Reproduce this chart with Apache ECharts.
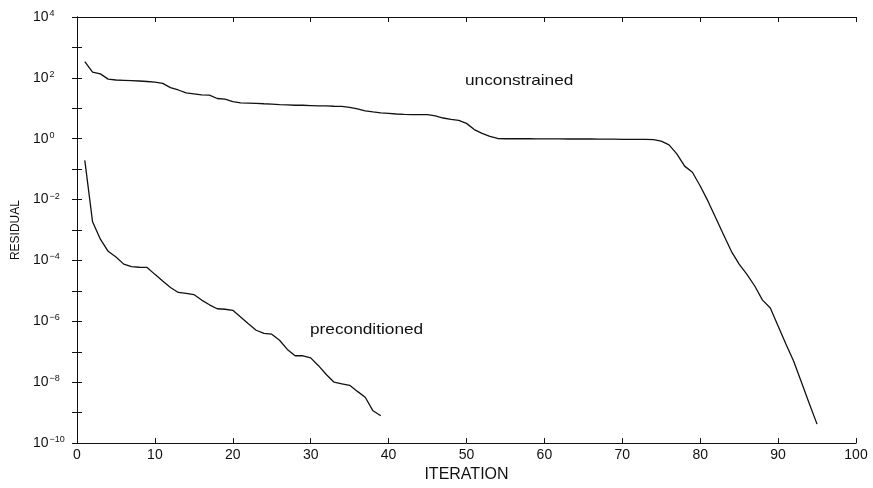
<!DOCTYPE html>
<html>
<head>
<meta charset="utf-8">
<script src="https://cdn.jsdelivr.net/npm/echarts@6/dist/echarts.min.js"></script>
<style>
  html, body { margin: 0; padding: 0; background: #fff; }
  #chart { width: 873px; height: 488px; }
</style>
</head>
<body>
<div id="chart"></div>
<script>
// iteration numbers
const iterUnc = []
for (let i = 1; i <= 95; i++) iterUnc.push(i)
const iterPre = []
for (let i = 1; i <= 39; i++) iterPre.push(i)

// residuals
const unconstrained = [
  340, 155, 135, 91, 85, 83, 81, 79, 76, 72,
  66, 48, 40, 32, 30, 27.5, 27, 21, 20, 16.6,
  15.1, 14.8, 14.5, 14.1, 13.8, 13.2, 12.9, 12.6, 12.6, 12.3,
  12.0, 12.0, 11.7, 11.5, 10.7, 9.5, 8.3, 7.6, 7.1, 6.8,
  6.5, 6.3, 6.2, 6.2, 6.2, 5.6, 4.8, 4.3, 4.0, 3.2,
  2.0, 1.5, 1.2, 1.02, 1.0, 1.0, 1.0, 1.0, 0.99, 0.99,
  0.99, 0.99, 0.98, 0.98, 0.98, 0.98, 0.97, 0.97, 0.97, 0.96,
  0.96, 0.96, 0.95, 0.93, 0.83, 0.63, 0.32, 0.126, 0.079, 0.028,
  8.9e-3, 2.5e-3, 7e-4, 2e-4, 7.6e-5, 3.5e-5, 1.45e-5, 5e-6, 2.75e-6, 7e-7,
  1.8e-7, 4.9e-8, 1e-8, 2e-9, 4.2e-10
]
const preconditioned = [
  0.195, 1.86e-3, 5e-4, 2e-4, 1.3e-4, 7.6e-5, 6.3e-5, 6e-5, 5.9e-5, 3.5e-5,
  2.1e-5, 1.3e-5, 8.9e-6, 8.3e-6, 7.6e-6, 5e-6, 3.5e-6, 2.6e-6, 2.5e-6, 2.3e-6,
  1.4e-6, 8.3e-7, 5.1e-7, 4e-7, 3.8e-7, 2.4e-7, 1.2e-7, 7.4e-8, 7.4e-8, 6.3e-8,
  3.5e-8, 1.8e-8, 1e-8, 8.9e-9, 7.9e-9, 5e-9, 3.2e-9, 1.15e-9, 7.9e-10
]

const xTicks = [0, 10, 20, 30, 40, 50, 60, 70, 80, 90, 100]
// decades that get a label
const yLabelExps = [-10, -8, -6, -4, -2, 0, 2, 4]

const font = 'Liberation Sans, Arial, Helvetica, sans-serif'
const ink = '#111'

const chart = echarts.init(document.getElementById('chart'))

const yBase = {
  type: 'log',
  logBase: 10,
  min: 1e-10,
  max: 1e4,
  interval: 1,
  splitLine: {show: false},
  axisLine: {show: true, lineStyle: {color: ink, width: 1}},
  axisTick: {show: true, inside: true, length: 5, lineStyle: {color: ink}}
}

chart.setOption({
  animation: false,
  backgroundColor: '#fff',
  grid: {left: 77, right: 17, top: 17, bottom: 36, containLabel: false},
  xAxis: [
    {
      type: 'value',
      min: xTicks[0],
      max: xTicks[xTicks.length - 1],
      interval: 10,
      name: 'ITERATION',
      nameLocation: 'middle',
      nameGap: 21,
      nameTextStyle: {color: ink, fontFamily: font, fontSize: 16},
      splitLine: {show: false},
      axisLine: {show: true, lineStyle: {color: ink, width: 1}},
      axisTick: {show: true, inside: true, length: 5, lineStyle: {color: ink}},
      axisLabel: {color: ink, fontFamily: font, fontSize: 14, margin: 5}
    },
    {
      type: 'value',
      position: 'top',
      min: xTicks[0],
      max: xTicks[xTicks.length - 1],
      interval: 10,
      splitLine: {show: false},
      axisLine: {show: true, lineStyle: {color: ink, width: 1}},
      axisTick: {show: true, inside: true, length: 5, lineStyle: {color: ink}},
      axisLabel: {show: false}
    }
  ],
  yAxis: [
    Object.assign({}, yBase, {
      name: 'RESIDUAL',
      nameLocation: 'middle',
      nameGap: 52,
      nameTextStyle: {color: ink, fontFamily: font, fontSize: 12},
      axisLabel: {
        align: 'left',
        margin: 44,
        formatter: v => {
          const e = Math.round(Math.log10(v))
          if (yLabelExps.indexOf(e) < 0) return ''
          return '{b|10}{s|' + (e < 0 ? '\u2212' + (-e) : e) + '}'
        },
        rich: {
          b: {color: ink, fontFamily: font, fontSize: 14},
          s: {color: ink, fontFamily: font, fontSize: 9, verticalAlign: 'top', padding: [0, 0, 7, 1]}
        }
      }
    }),
    Object.assign({}, yBase, {position: 'right', axisLabel: {show: false}})
  ],
  series: [
    {
      name: 'unconstrained',
      type: 'line',
      showSymbol: false,
      lineStyle: {color: ink, width: 1.3},
      data: iterUnc.map((x, i) => [x, unconstrained[i]])
    },
    {
      name: 'preconditioned',
      type: 'line',
      showSymbol: false,
      lineStyle: {color: ink, width: 1.3},
      data: iterPre.map((x, i) => [x, preconditioned[i]])
    }
  ],
  graphic: [
    {
      type: 'text', x: 465, y: 81, scaleX: 1.15,
      style: {text: 'unconstrained', fill: ink, font: '15px ' + font, textVerticalAlign: 'middle'}
    },
    {
      type: 'text', x: 310, y: 330, scaleX: 1.15,
      style: {text: 'preconditioned', fill: ink, font: '15px ' + font, textVerticalAlign: 'middle'}
    }
  ]
})
</script>
</body>
</html>
